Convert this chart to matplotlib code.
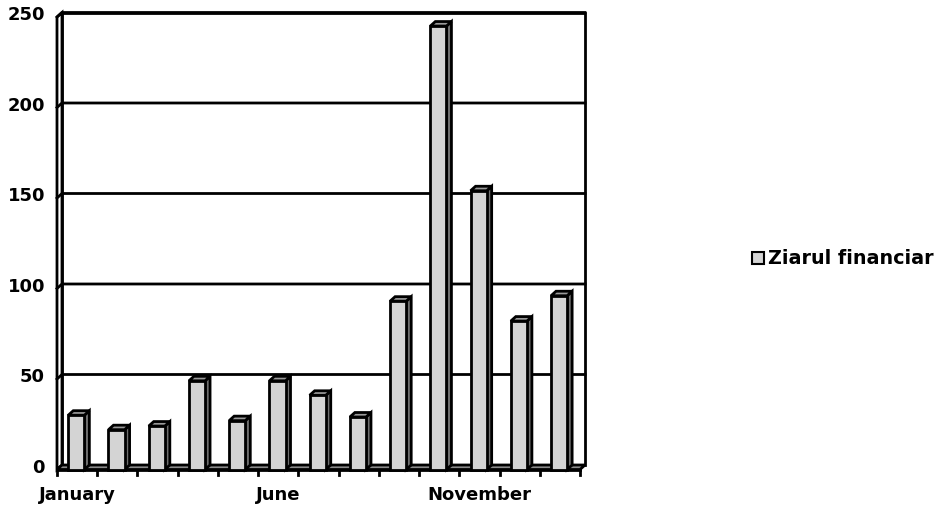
import matplotlib
matplotlib.use("Agg")
import matplotlib.pyplot as plt
from matplotlib.patches import Polygon, Rectangle, Patch

plt.rcParams['font.family'] = ['DejaVu Sans']

months = ["January", "February", "March", "April", "May", "June", "July",
          "August", "September", "October", "November", "December", "January"]
values = [30, 22, 24, 49, 27, 49, 41, 29, 93, 245, 154, 82, 96]
series_name = "Ziarul financiar"
yticks = [0, 50, 100, 150, 200, 250]
shown_labels = [0, 5, 10]

W, H = 934, 509
fig = plt.figure(figsize=(W / 100, H / 100), dpi=100)
x0, x1 = 57, 580
y0, y250 = 469.5, 17.0
ax = fig.add_axes([x0 / W, (H - y0) / H, (x1 - x0) / W, (y0 - y250) / H])
n = len(values)
ax.set_xlim(0, n)
ax.set_ylim(0, 250)
for s in ax.spines.values():
    s.set_visible(False)
ax.set_xticks([])
ax.set_yticks([])

px_x = (x1 - x0) / n
px_y = (y0 - y250) / 250
dx = 5 / px_x
dy = 4.5 / px_y

front_c = '#d4d4d4'
side_c = '#6e6e6e'
top_c = '#9a9a9a'
floor_c = '#8a8a8a'
lw = 2.0
fs = 13.0

# back wall
ax.add_patch(Rectangle((dx, dy), n, 250, facecolor='white', edgecolor='black',
                       lw=lw, clip_on=False, zorder=1))
# left wall
ax.add_patch(Polygon([(0, 0), (dx, dy), (dx, 250 + dy), (0, 250)], closed=True,
                     facecolor='white', edgecolor='black', lw=lw, clip_on=False, zorder=1))
# gridlines
for v in yticks[1:]:
    ax.plot([0, dx, n + dx], [v, v + dy, v + dy], color='black', lw=lw,
            clip_on=False, zorder=2, solid_joinstyle='miter')
# floor
ax.add_patch(Polygon([(0, 0), (n, 0), (n + dx, dy), (dx, dy)], closed=True,
                     facecolor=floor_c, edgecolor='black', lw=lw, clip_on=False, zorder=2))
# x ticks
tick_len = 5 / px_y
for i in range(n + 1):
    ax.plot([i, i], [0, -tick_len], color='black', lw=lw, clip_on=False, zorder=2)
ax.plot([0, n], [0, 0], color='black', lw=lw, clip_on=False, zorder=2)

# bars
bw = 0.4
off = 0.28
for i, v in enumerate(values):
    l = i + off
    r = l + bw
    ax.add_patch(Polygon([(r, 0), (r + dx, dy), (r + dx, v + dy), (r, v)], closed=True,
                         facecolor=side_c, edgecolor='black', lw=lw, clip_on=False,
                         zorder=3, joinstyle='miter'))
    ax.add_patch(Polygon([(l, v), (r, v), (r + dx, v + dy), (l + dx, v + dy)], closed=True,
                         facecolor=top_c, edgecolor='black', lw=lw, clip_on=False,
                         zorder=3, joinstyle='miter'))
ax.bar([i + off for i in range(n)], values, width=bw, align='edge', color=front_c,
       edgecolor='black', linewidth=lw, zorder=4, clip_on=False)

# y labels
for v in yticks:
    ax.text(-12 / px_x, v + 1.0, str(v), ha='right', va='center', fontsize=fs,
            fontweight='bold', clip_on=False)
# x labels
for i in shown_labels:
    ax.text(i + 0.5, -16 / px_y, months[i], ha='center', va='top', fontsize=fs,
            fontweight='bold', clip_on=False)

handle = Patch(facecolor=front_c, edgecolor='black', linewidth=1.5)
fig.legend([handle], [series_name], loc='center left',
           bbox_to_anchor=(752 / W, 1 - 259 / H), frameon=False, borderpad=0,
           borderaxespad=0, handlelength=0.62, handleheight=0.62, handletextpad=0.22,
           prop={'size': 13.8, 'weight': 'bold'})

fig.savefig('out.png', dpi=100)
